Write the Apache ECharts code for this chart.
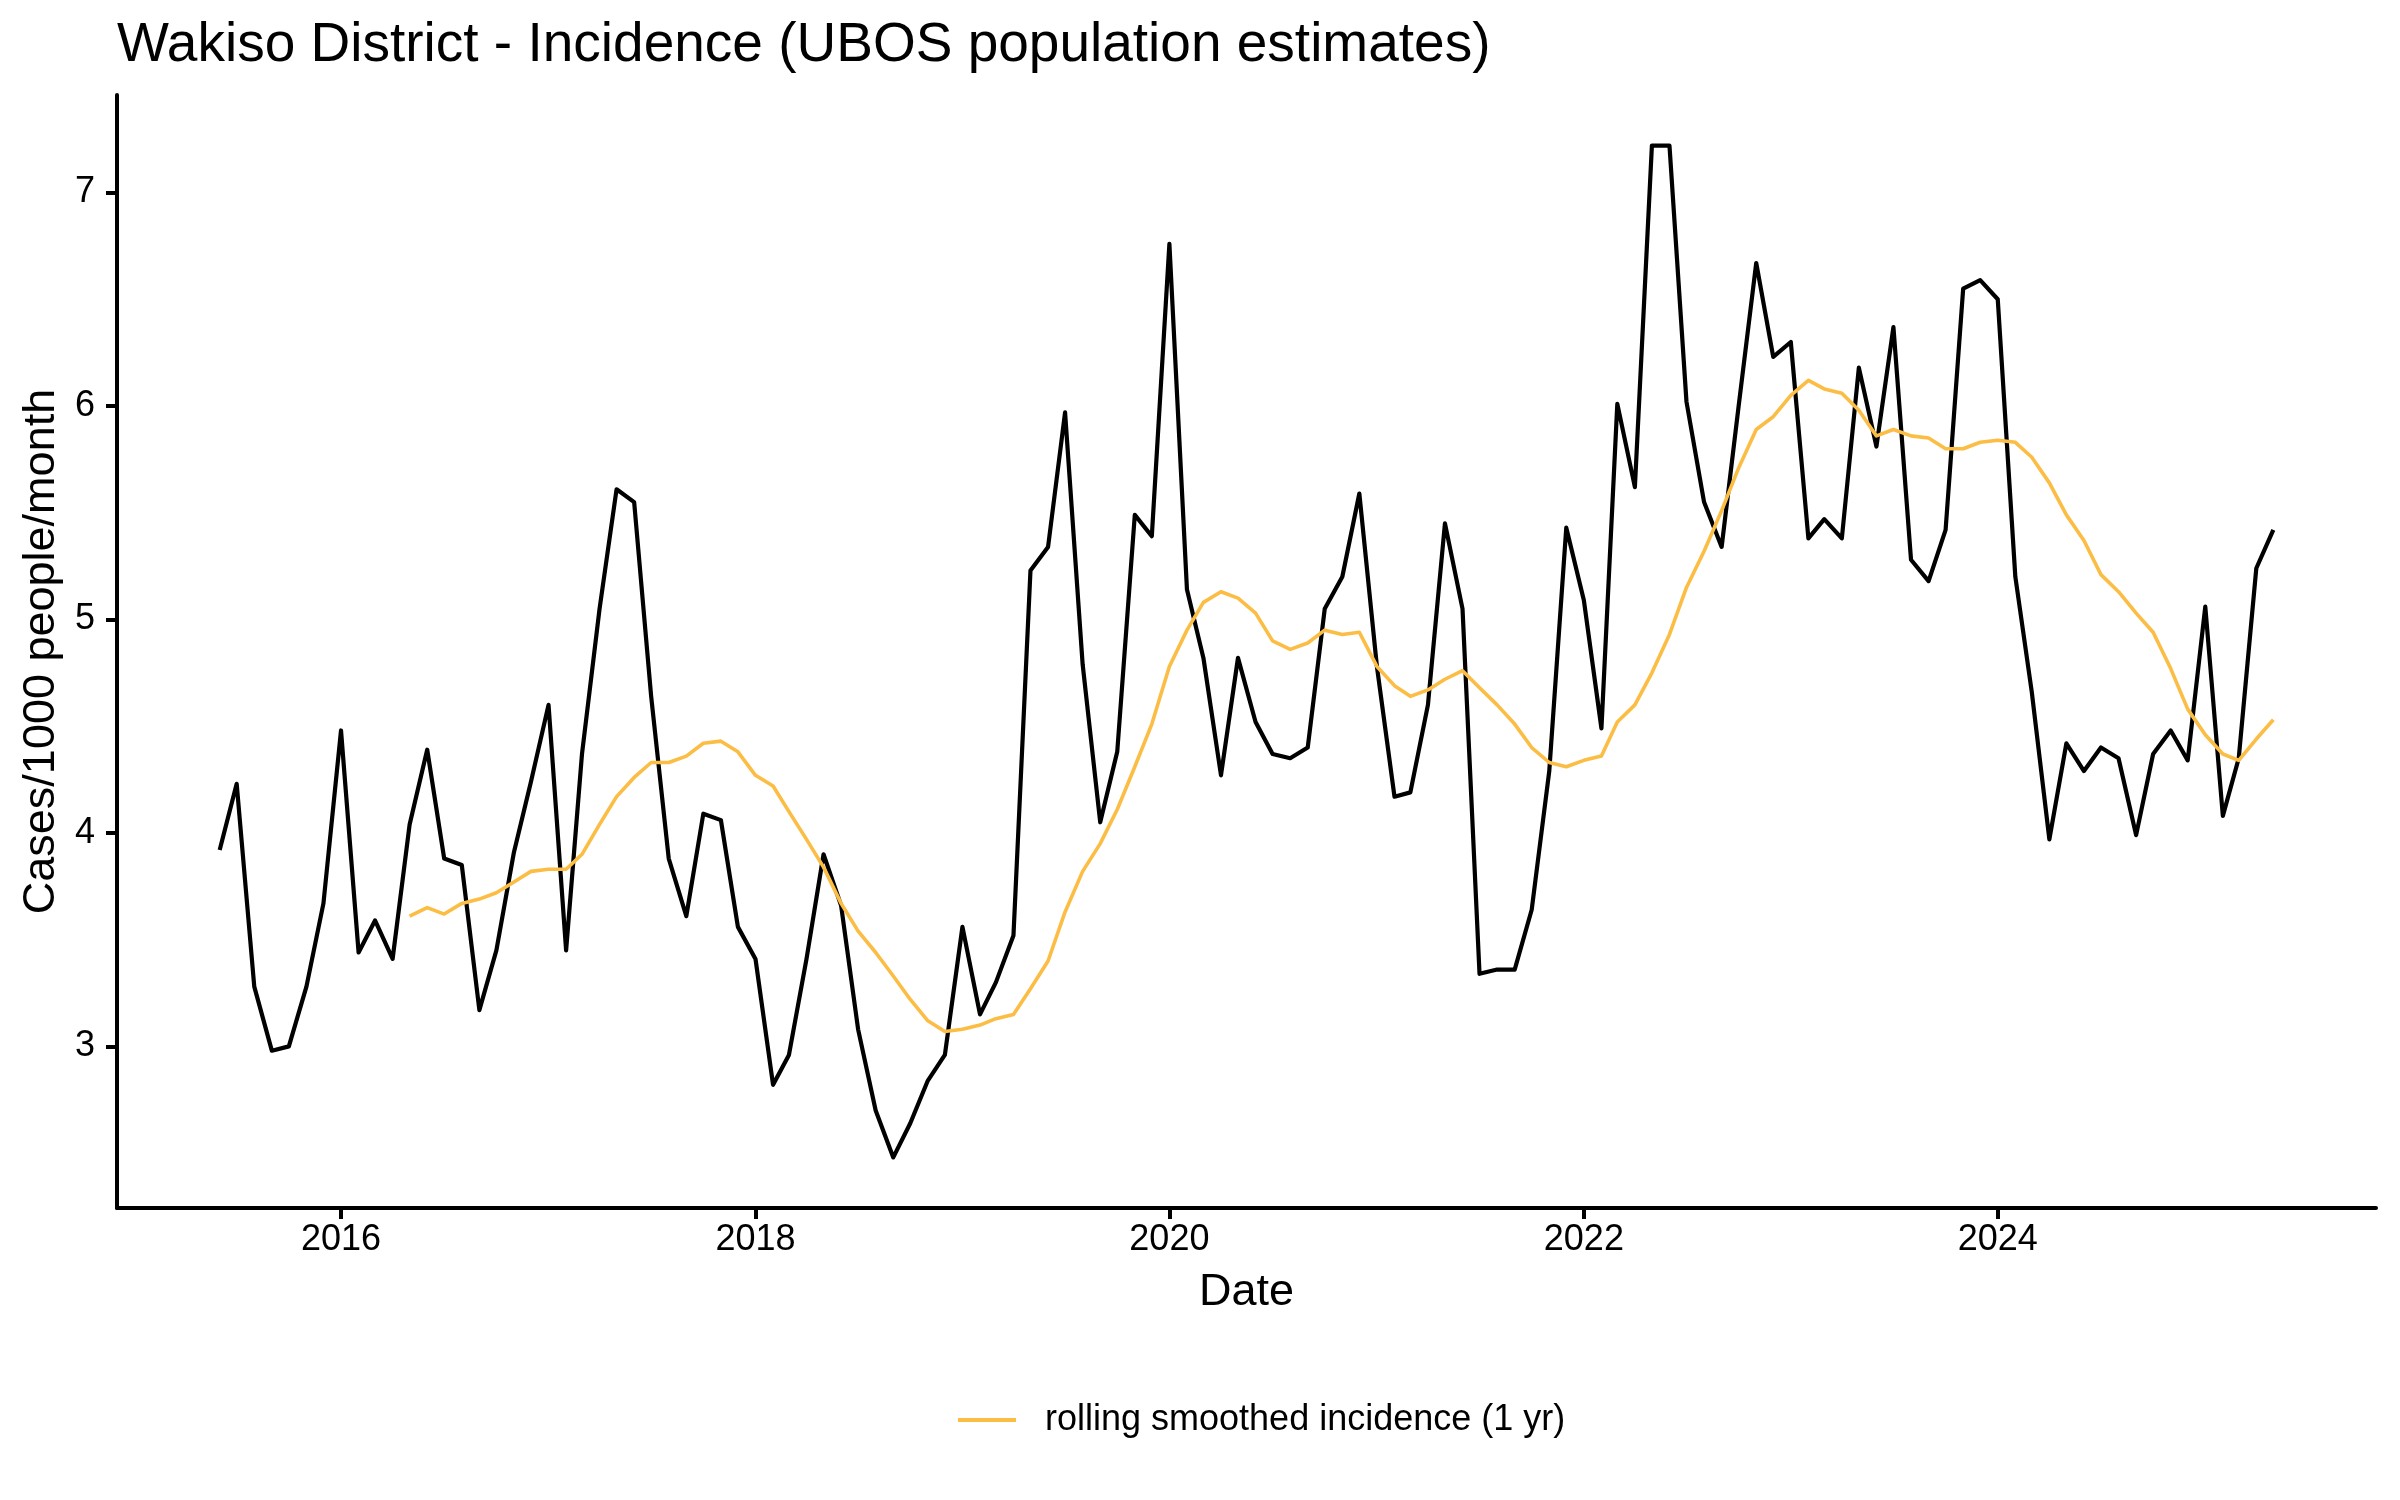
<!DOCTYPE html>
<html>
<head>
<meta charset="utf-8">
<script src="https://cdn.jsdelivr.net/npm/echarts@6/dist/echarts.min.js"></script>
<style>
html,body{margin:0;padding:0;background:#fff;}
#chart{width:2400px;height:1500px;}
</style>
</head>
<body>
<div id="chart"></div>
<script>
const months = [
  "2015-06","2015-07","2015-08","2015-09","2015-10","2015-11","2015-12",
  "2016-01","2016-02","2016-03","2016-04","2016-05","2016-06","2016-07","2016-08","2016-09","2016-10","2016-11","2016-12",
  "2017-01","2017-02","2017-03","2017-04","2017-05","2017-06","2017-07","2017-08","2017-09","2017-10","2017-11","2017-12",
  "2018-01","2018-02","2018-03","2018-04","2018-05","2018-06","2018-07","2018-08","2018-09","2018-10","2018-11","2018-12",
  "2019-01","2019-02","2019-03","2019-04","2019-05","2019-06","2019-07","2019-08","2019-09","2019-10","2019-11","2019-12",
  "2020-01","2020-02","2020-03","2020-04","2020-05","2020-06","2020-07","2020-08","2020-09","2020-10","2020-11","2020-12",
  "2021-01","2021-02","2021-03","2021-04","2021-05","2021-06","2021-07","2021-08","2021-09","2021-10","2021-11","2021-12",
  "2022-01","2022-02","2022-03","2022-04","2022-05","2022-06","2022-07","2022-08","2022-09","2022-10","2022-11","2022-12",
  "2023-01","2023-02","2023-03","2023-04","2023-05","2023-06","2023-07","2023-08","2023-09","2023-10","2023-11","2023-12",
  "2024-01","2024-02","2024-03","2024-04","2024-05","2024-06","2024-07","2024-08","2024-09","2024-10","2024-11","2024-12",
  "2025-01","2025-02","2025-03","2025-04","2025-05"
];

const incidence = [
  3.92,4.23,3.28,2.98,3.00,3.28,3.67,
  4.48,3.44,3.59,3.41,4.04,4.39,3.88,3.85,3.17,3.45,3.91,4.24,
  4.60,3.45,4.37,5.05,5.61,5.55,4.64,3.88,3.61,4.09,4.06,3.56,
  3.41,2.82,2.96,3.41,3.90,3.66,3.08,2.70,2.48,2.64,2.84,2.96,
  3.56,3.15,3.30,3.52,5.23,5.34,5.97,4.79,4.05,4.38,5.49,5.39,
  6.76,5.14,4.82,4.27,4.82,4.52,4.37,4.35,4.40,5.05,5.20,5.59,
  4.78,4.17,4.19,4.60,5.45,5.05,3.34,3.36,3.36,3.64,4.29,5.43,
  5.09,4.49,6.01,5.62,7.22,7.22,6.02,5.55,5.34,6.00,6.67,6.23,
  6.30,5.38,5.47,5.38,6.18,5.81,6.37,5.28,5.18,5.42,6.55,6.59,
  6.50,5.20,4.66,3.97,4.42,4.29,4.40,4.35,3.99,4.37,4.48,4.34,
  5.06,4.08,4.35,5.24,5.42
];

const smoothed = [
  null,null,null,null,null,null,null,
  null,null,null,null,3.61,3.65,3.62,3.67,3.69,3.72,3.77,3.82,
  3.83,3.83,3.90,4.04,4.17,4.26,4.33,4.33,4.36,4.42,4.43,4.38,
  4.27,4.22,4.10,3.97,3.84,3.67,3.54,3.44,3.33,3.22,3.12,3.07,
  3.08,3.10,3.13,3.15,3.27,3.40,3.63,3.82,3.95,4.11,4.31,4.51,
  4.78,4.95,5.08,5.13,5.10,5.03,4.90,4.86,4.89,4.95,4.93,4.94,
  4.78,4.69,4.64,4.67,4.72,4.76,4.68,4.60,4.51,4.40,4.33,4.31,
  4.34,4.36,4.52,4.60,4.75,4.93,5.15,5.32,5.51,5.71,5.89,5.95,
  6.05,6.12,6.08,6.06,5.98,5.86,5.89,5.86,5.85,5.80,5.80,5.83,
  5.84,5.83,5.76,5.64,5.49,5.37,5.21,5.13,5.03,4.94,4.77,4.58,
  4.46,4.37,4.34,4.44,4.53
];

const xTickYears = [2016, 2018, 2020, 2022, 2024];
const yTickValues = [3, 4, 5, 6, 7];

const titleText = "Wakiso District - Incidence (UBOS population estimates)";
const xName = "Date";
const yName = "Cases/1000 people/month";
const smoothName = "rolling smoothed incidence (1 yr)";

function ts(s) {
  const p = s.split("-");
  return Date.UTC(+p[0], +p[1] - 1, 1);
}
const xs = months.map(ts);
const blackData = xs.map((x, i) => [x, incidence[i]]);
const orangeData = xs.map((x, i) => [x, smoothed[i]]);

// ggplot-like 5% expansion
const xMinD = Math.min(...xs), xMaxD = Math.max(...xs);
const xPad = (xMaxD - xMinD) * 0.05;
const allY = incidence.concat(smoothed.filter(v => v != null));
const yMinD = Math.min(...allY), yMaxD = Math.max(...allY);
const yPad = (yMaxD - yMinD) * 0.05;

const FONT = "'Liberation Sans', Arial, Helvetica, sans-serif";
const ORANGE = '#FBBD44';
const chart = echarts.init(document.getElementById('chart'), null, {renderer: 'canvas'});
chart.setOption({
  animation: false,
  backgroundColor: '#ffffff',
  title: {
    text: titleText,
    left: 112,
    top: 13,
    textStyle: {fontFamily: FONT, fontSize: 55, fontWeight: 'normal', color: '#000'}
  },
  legend: {
    data: [smoothName],
    left: 953,
    top: 1397,
    icon: 'rect',
    itemWidth: 58,
    itemHeight: 4,
    textStyle: {fontFamily: FONT, fontSize: 36, color: '#000', padding: [0, 0, 0, 24]}
  },
  grid: {left: 117, right: 24, top: 95, bottom: 292, outerBoundsMode: 'none', containLabel: false},
  xAxis: {
    type: 'value',
    min: xMinD - xPad,
    max: xMaxD + xPad,
    name: xName,
    nameLocation: 'middle',
    nameGap: 62,
    nameTextStyle: {fontFamily: FONT, fontSize: 45, color: '#000'},
    axisLine: {show: true, onZero: false, lineStyle: {color: '#000', width: 4}},
    axisTick: {show: true, length: 11, lineStyle: {color: '#000', width: 4},
      customValues: xTickYears.map(y => Date.UTC(y, 0, 1))},
    axisLabel: {show: true, margin: 14, fontFamily: FONT, fontSize: 36, color: '#000',
      customValues: xTickYears.map(y => Date.UTC(y, 0, 1)),
      formatter: v => String(new Date(v).getUTCFullYear())},
    splitLine: {show: false}
  },
  yAxis: {
    type: 'value',
    min: yMinD - yPad,
    max: yMaxD + yPad,
    name: yName,
    nameLocation: 'middle',
    nameGap: 52,
    nameTextStyle: {fontFamily: FONT, fontSize: 45, color: '#000'},
    axisLine: {show: true, onZero: false, lineStyle: {color: '#000', width: 4}},
    axisTick: {show: true, length: 11, lineStyle: {color: '#000', width: 4}, customValues: yTickValues},
    axisLabel: {show: true, margin: 22, fontFamily: FONT, fontSize: 36, color: '#000', customValues: yTickValues},
    splitLine: {show: false}
  },
  series: [
    {
      name: 'incidence',
      type: 'line',
      data: blackData,
      showSymbol: false,
      symbol: 'none',
      lineStyle: {color: '#000', width: 4.2, join: 'round'},
      itemStyle: {color: '#000'},
      z: 2
    },
    {
      name: smoothName,
      type: 'line',
      data: orangeData,
      showSymbol: false,
      symbol: 'none',
      connectNulls: false,
      lineStyle: {color: ORANGE, width: 3.6, join: 'round'},
      itemStyle: {color: ORANGE},
      z: 3
    }
  ]
});
</script>
</body>
</html>
